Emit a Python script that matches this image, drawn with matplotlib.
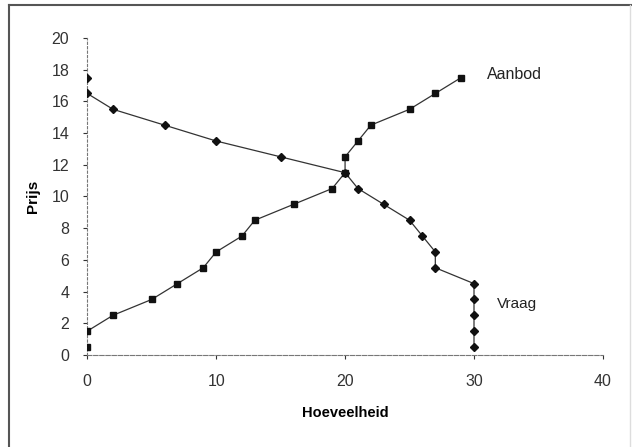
import matplotlib
matplotlib.use("Agg")
import matplotlib.pyplot as plt
from matplotlib.lines import Line2D

plt.rcParams["font.family"] = ["Liberation Sans", "DejaVu Sans"]

# Demand (Vraag)
vraag_q = [0, 0, 2, 6, 10, 15, 20, 21, 23, 25, 26, 27, 27, 30, 30, 30, 30, 30]
vraag_p = [17.5, 16.5, 15.5, 14.5, 13.5, 12.5, 11.5, 10.5, 9.5, 8.5, 7.5, 6.5, 5.5, 4.5, 3.5, 2.5, 1.5, 0.5]
# Supply (Aanbod)
aanbod_q = [0, 0, 2, 5, 7, 9, 10, 12, 13, 16, 19, 20, 20, 21, 22, 25, 27, 29]
aanbod_p = [0.5, 1.5, 2.5, 3.5, 4.5, 5.5, 6.5, 7.5, 8.5, 9.5, 10.5, 11.5, 12.5, 13.5, 14.5, 15.5, 16.5, 17.5]

xticks = [0, 10, 20, 30, 40]
yticks = [0, 2, 4, 6, 8, 10, 12, 14, 16, 18, 20]

fig = plt.figure(figsize=(6.32, 4.47), dpi=100)
ax = fig.add_axes([0.138, 0.206, 0.816, 0.709])

ax.plot(vraag_q[1:], vraag_p[1:], color="#333333", lw=0.9, marker="D", ms=3.8,
        mfc="#111111", mec="#111111", zorder=3)
ax.plot(vraag_q[:1], vraag_p[:1], ls="none", marker="D", ms=3.8,
        mfc="#111111", mec="#111111", zorder=3)
ax.plot(aanbod_q[1:], aanbod_p[1:], color="#333333", lw=0.9, marker="s", ms=3.8,
        mfc="#111111", mec="#111111", zorder=3)
ax.plot(aanbod_q[:1], aanbod_p[:1], ls="none", marker="s", ms=3.8,
        mfc="#111111", mec="#111111", zorder=3)

ax.set_xlim(0, 40)
ax.set_ylim(0, 20)
ax.set_xticks(xticks)
ax.set_yticks(yticks)
ax.tick_params(labelsize=11.5, colors="#333333", length=3, width=0.8)
ax.tick_params(axis="x", pad=11)
ax.tick_params(axis="y", pad=10)
for s in ["top", "right"]:
    ax.spines[s].set_visible(False)
for s in ["left", "bottom"]:
    ax.spines[s].set_color("#777777")
    ax.spines[s].set_linewidth(0.8)
ax.spines["left"].set_linestyle((0, (2, 2)))
ax.spines["bottom"].set_linestyle((0, (4, 1.5)))

ax.set_xlabel("Hoeveelheid", fontsize=10.5, fontweight="bold", labelpad=12)
ax.set_ylabel("Prijs", fontsize=11, fontweight="bold", labelpad=8)

ax.text(31.0, 17.7, "Aanbod", fontsize=11.5, color="#222222", va="center")
ax.text(31.8, 3.2, "Vraag", fontsize=11, color="#222222", va="center")

# outer frame
W, H = 632, 447
fig.add_artist(Line2D([9 / W, 9 / W], [0, 1 - 5 / H], color="#555555", lw=1.5))
fig.add_artist(Line2D([9 / W, 1], [1 - 5 / H, 1 - 5 / H], color="#555555", lw=1.5))
fig.add_artist(Line2D([630 / W, 630 / W], [0, 1 - 5 / H], color="#dddddd", lw=1.0))

fig.savefig("out.png", dpi=100)
